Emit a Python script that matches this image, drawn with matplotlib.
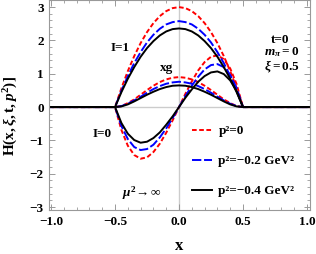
import matplotlib
matplotlib.use('Agg')
import matplotlib.pyplot as plt
from matplotlib.ticker import MultipleLocator

plt.rcParams['font.family'] = ['Liberation Serif', 'DejaVu Serif']
plt.rcParams['font.weight'] = 'bold'
plt.rcParams['mathtext.fontset'] = 'custom'
plt.rcParams['mathtext.rm'] = 'Liberation Serif:bold'
plt.rcParams['mathtext.bf'] = 'Liberation Serif:bold'
plt.rcParams['mathtext.it'] = 'Liberation Serif:italic:bold'
plt.rcParams['mathtext.sf'] = 'Liberation Serif:italic'

# x grid (xi = 0.5)
x = [-1.05, -0.5, -0.45, -0.4, -0.35, -0.3, -0.25, -0.2, -0.15, -0.1, -0.05, 0.0,
     0.05, 0.1, 0.15, 0.2, 0.25, 0.3, 0.35, 0.4, 0.45, 0.5, 1.05]

# I=1 curves
i1_p0 = [0, 0, 0.57, 1.08, 1.53, 1.92, 2.25, 2.52, 2.73, 2.88, 2.97, 3.00,
         2.97, 2.88, 2.73, 2.52, 2.25, 1.92, 1.53, 1.08, 0.57, 0, 0]
i1_p2 = [0, 0, 0.49, 0.93, 1.32, 1.65, 1.94, 2.17, 2.35, 2.48, 2.55, 2.58,
         2.55, 2.48, 2.35, 2.17, 1.94, 1.65, 1.32, 0.93, 0.49, 0, 0]
i1_p4 = [0, 0, 0.45, 0.85, 1.20, 1.51, 1.77, 1.98, 2.15, 2.27, 2.34, 2.36,
         2.34, 2.27, 2.15, 1.98, 1.77, 1.51, 1.20, 0.85, 0.45, 0, 0]

# xg curves
xg_p0 = [0, 0, 0.03, 0.12, 0.23, 0.37, 0.51, 0.64, 0.75, 0.83, 0.88, 0.90,
         0.88, 0.83, 0.75, 0.64, 0.51, 0.37, 0.23, 0.12, 0.03, 0, 0]
xg_p2 = [0, 0, 0.03, 0.10, 0.20, 0.31, 0.43, 0.54, 0.63, 0.70, 0.74, 0.76,
         0.74, 0.70, 0.63, 0.54, 0.43, 0.31, 0.20, 0.10, 0.03, 0, 0]
xg_p4 = [0, 0, 0.02, 0.08, 0.17, 0.27, 0.37, 0.46, 0.54, 0.60, 0.64, 0.65,
         0.64, 0.60, 0.54, 0.46, 0.37, 0.27, 0.17, 0.08, 0.02, 0, 0]

# I=0 curves
i0_p0 = [0, 0, -0.69, -1.16, -1.44, -1.55, -1.51, -1.35, -1.10, -0.77, -0.40, 0,
         0.40, 0.77, 1.10, 1.35, 1.51, 1.55, 1.44, 1.16, 0.69, 0, 0]
i0_p2 = [0, 0, -0.57, -0.96, -1.20, -1.29, -1.26, -1.13, -0.91, -0.64, -0.33, 0,
         0.33, 0.64, 0.91, 1.13, 1.26, 1.29, 1.20, 0.96, 0.57, 0, 0]
i0_p4 = [0, 0, -0.48, -0.80, -0.99, -1.07, -1.04, -0.93, -0.76, -0.53, -0.28, 0,
         0.28, 0.53, 0.76, 0.93, 1.04, 1.07, 0.99, 0.80, 0.48, 0, 0]

labels = ['p²=0', 'p²=−0.2 GeV²', 'p²=−0.4 GeV²']

fig = plt.figure(figsize=(3.16, 2.54), dpi=100)
ax = fig.add_axes([0.1535, 0.1732, 0.826, 0.825])

ax.axhline(0, color='#cccccc', lw=1.0, zorder=0)
ax.axvline(0, color='#cccccc', lw=1.0, zorder=0)

lw = 1.4
for ys, c, d, lab in [((i1_p0, xg_p0, i0_p0), 'red', (2.4, 1.3), labels[0]),
                      ((i1_p2, xg_p2, i0_p2), 'blue', (4.8, 1.4), labels[1]),
                      ((i1_p4, xg_p4, i0_p4), 'black', None, labels[2])]:
    for k, y in enumerate(ys):
        line, = ax.plot(x, y, color=c, lw=lw, label=lab if k == 0 else None)
        if d is not None:
            line.set_dashes(d)

ax.set_xlim(-1.02, 1.02)
ax.set_ylim(-3.09, 3.2)
ax.xaxis.set_minor_locator(MultipleLocator(0.1))
ax.yaxis.set_minor_locator(MultipleLocator(0.2))
ax.set_xticks([-1.0, -0.5, 0.0, 0.5, 1.0])
ax.set_xticklabels(['−1.0', '−0.5', '0.0', '0.5', '1.0'])
ax.set_yticks([-3, -2, -1, 0, 1, 2, 3])
ax.set_yticklabels(['−3', '−2', '−1', '0', '1', '2', '3'])

ax.tick_params(which='both', direction='in', top=True, right=True,
               color='#999999', labelsize=9.5)
ax.tick_params(which='major', length=4, width=0.7)
ax.tick_params(which='minor', length=2, width=0.6)
ax.tick_params(axis='y', pad=3.5)
ax.tick_params(axis='x', pad=4.0)
for s in ax.spines.values():
    s.set_color('#999999')
    s.set_linewidth(0.8)

ax.set_xlabel('x', fontsize=12, fontweight='bold')
ax.set_ylabel(r'$\mathrm{H(x,}\xi\mathrm{,t,}p^{2}\mathrm{)]}$', fontsize=11)
ax.xaxis.set_label_coords(0.5, -0.135)
ax.yaxis.set_label_coords(-0.11, 0.45)

fs = 9.5
ax.text(-0.457, 1.77, 'I=1', fontsize=fs, ha='center', va='center')
ax.text(-0.10, 1.17, 'xg', fontsize=fs, ha='center', va='center')
ax.text(-0.60, -0.81, 'I=0', fontsize=fs, ha='center', va='center')
ax.text(0.79, 2.02, 't=0', fontsize=fs, ha='center', va='center')
ax.text(0.80, 1.65, r'$m_{\pi}\mathrm{=0}$', fontsize=fs, ha='center', va='center')
ax.text(0.80, 1.21, r'$\xi\mathrm{=0.5}$', fontsize=fs, ha='center', va='center')
ax.text(-0.29, -2.58, r'$\mathsf{\mu}^{2}\!\rightarrow\infty$', fontsize=fs,
        ha='center', va='center')

ax.legend(loc='upper left', bbox_to_anchor=(0.55, 0.405), frameon=False,
          borderpad=0, borderaxespad=0, handlelength=1.5, handletextpad=0.5,
          labelspacing=1.35, prop={'size': 9.5, 'weight': 'bold'})

fig.savefig('out.png', dpi=100)
